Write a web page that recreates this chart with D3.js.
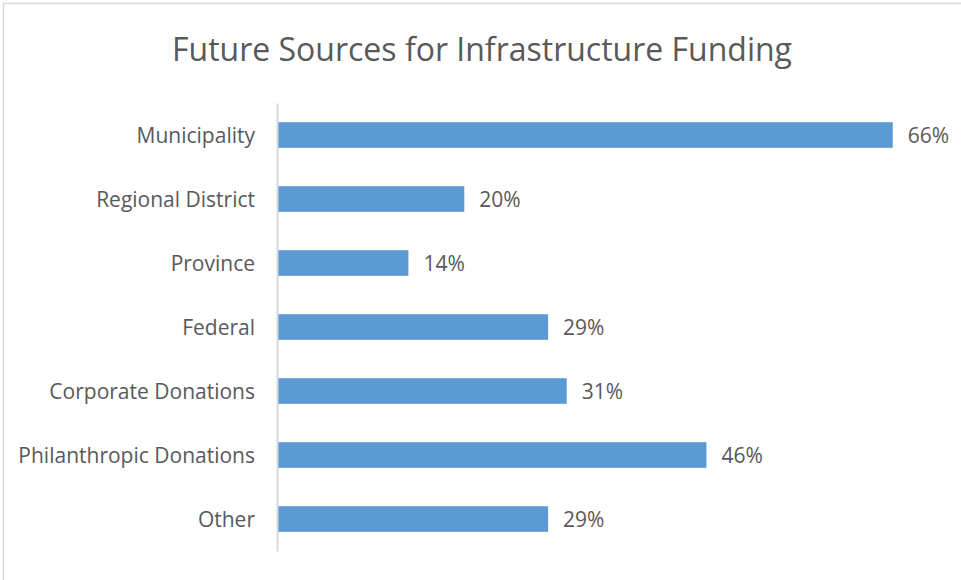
<!DOCTYPE html>
<html>
<head>
<meta charset="utf-8">
<script src="https://cdn.jsdelivr.net/npm/d3@7"></script>
<style>
  html, body { margin: 0; padding: 0; background: #fff; }
  svg { display: block; }
  text { font-family: "Open Sans", sans-serif; fill: #595959; }
</style>
</head>
<body>
<svg id="chart" width="961" height="580"></svg>
<script>
// Survey results: share of respondents naming each future funding source
const categories = ["Municipality", "Regional District", "Province", "Federal",
                    "Corporate Donations", "Philanthropic Donations", "Other"];
const values = [66, 20, 14, 29, 31, 46, 29];
const title = "Future Sources for Infrastructure Funding";

const svg = d3.select("#chart");
const W = 961, H = 580;
const margin = { top: 103, right: 31, bottom: 29, left: 278 };

// chart frame
svg.append("rect")
  .attr("x", 3.5).attr("y", 3.5)
  .attr("width", W + 10).attr("height", H + 10)
  .attr("fill", "#fff").attr("stroke", "#d9d9d9").attr("stroke-width", 1.5);

svg.append("text")
  .attr("x", 482).attr("y", 61)
  .attr("text-anchor", "middle")
  .attr("font-size", 32)
  .text(title);

const x = d3.scaleLinear().domain([0, 70]).range([margin.left, W - margin.right]);
const y = d3.scaleBand().domain(categories)
  .range([margin.top, H - margin.bottom])
  .paddingInner(0.6).paddingOuter(0.3);

const data = categories.map((c, i) => ({ c, v: values[i] }));

svg.selectAll("rect.bar").data(data).join("rect")
  .attr("class", "bar")
  .attr("x", x(0))
  .attr("y", d => y(d.c))
  .attr("width", d => x(d.v) - x(0))
  .attr("height", y.bandwidth())
  .attr("fill", "#5b9bd5");

svg.selectAll("text.val").data(data).join("text")
  .attr("class", "val")
  .attr("x", d => x(d.v) + 15)
  .attr("y", d => y(d.c) + y.bandwidth() / 2)
  .attr("dy", "0.36em")
  .attr("font-size", 21)
  .text(d => d.v + "%");

// category axis
const yAxis = svg.append("g")
  .attr("transform", `translate(${margin.left - 1},0)`)
  .call(d3.axisLeft(y).tickSize(0).tickPadding(22));
yAxis.select(".domain").attr("stroke", "#d9d9d9").attr("stroke-width", 2);
yAxis.selectAll("text")
  .attr("font-size", 21)
  .attr("dy", "0.36em")
  .attr("fill", "#595959")
  .style("font-family", "\"Open Sans\", sans-serif");
</script>
</body>
</html>
